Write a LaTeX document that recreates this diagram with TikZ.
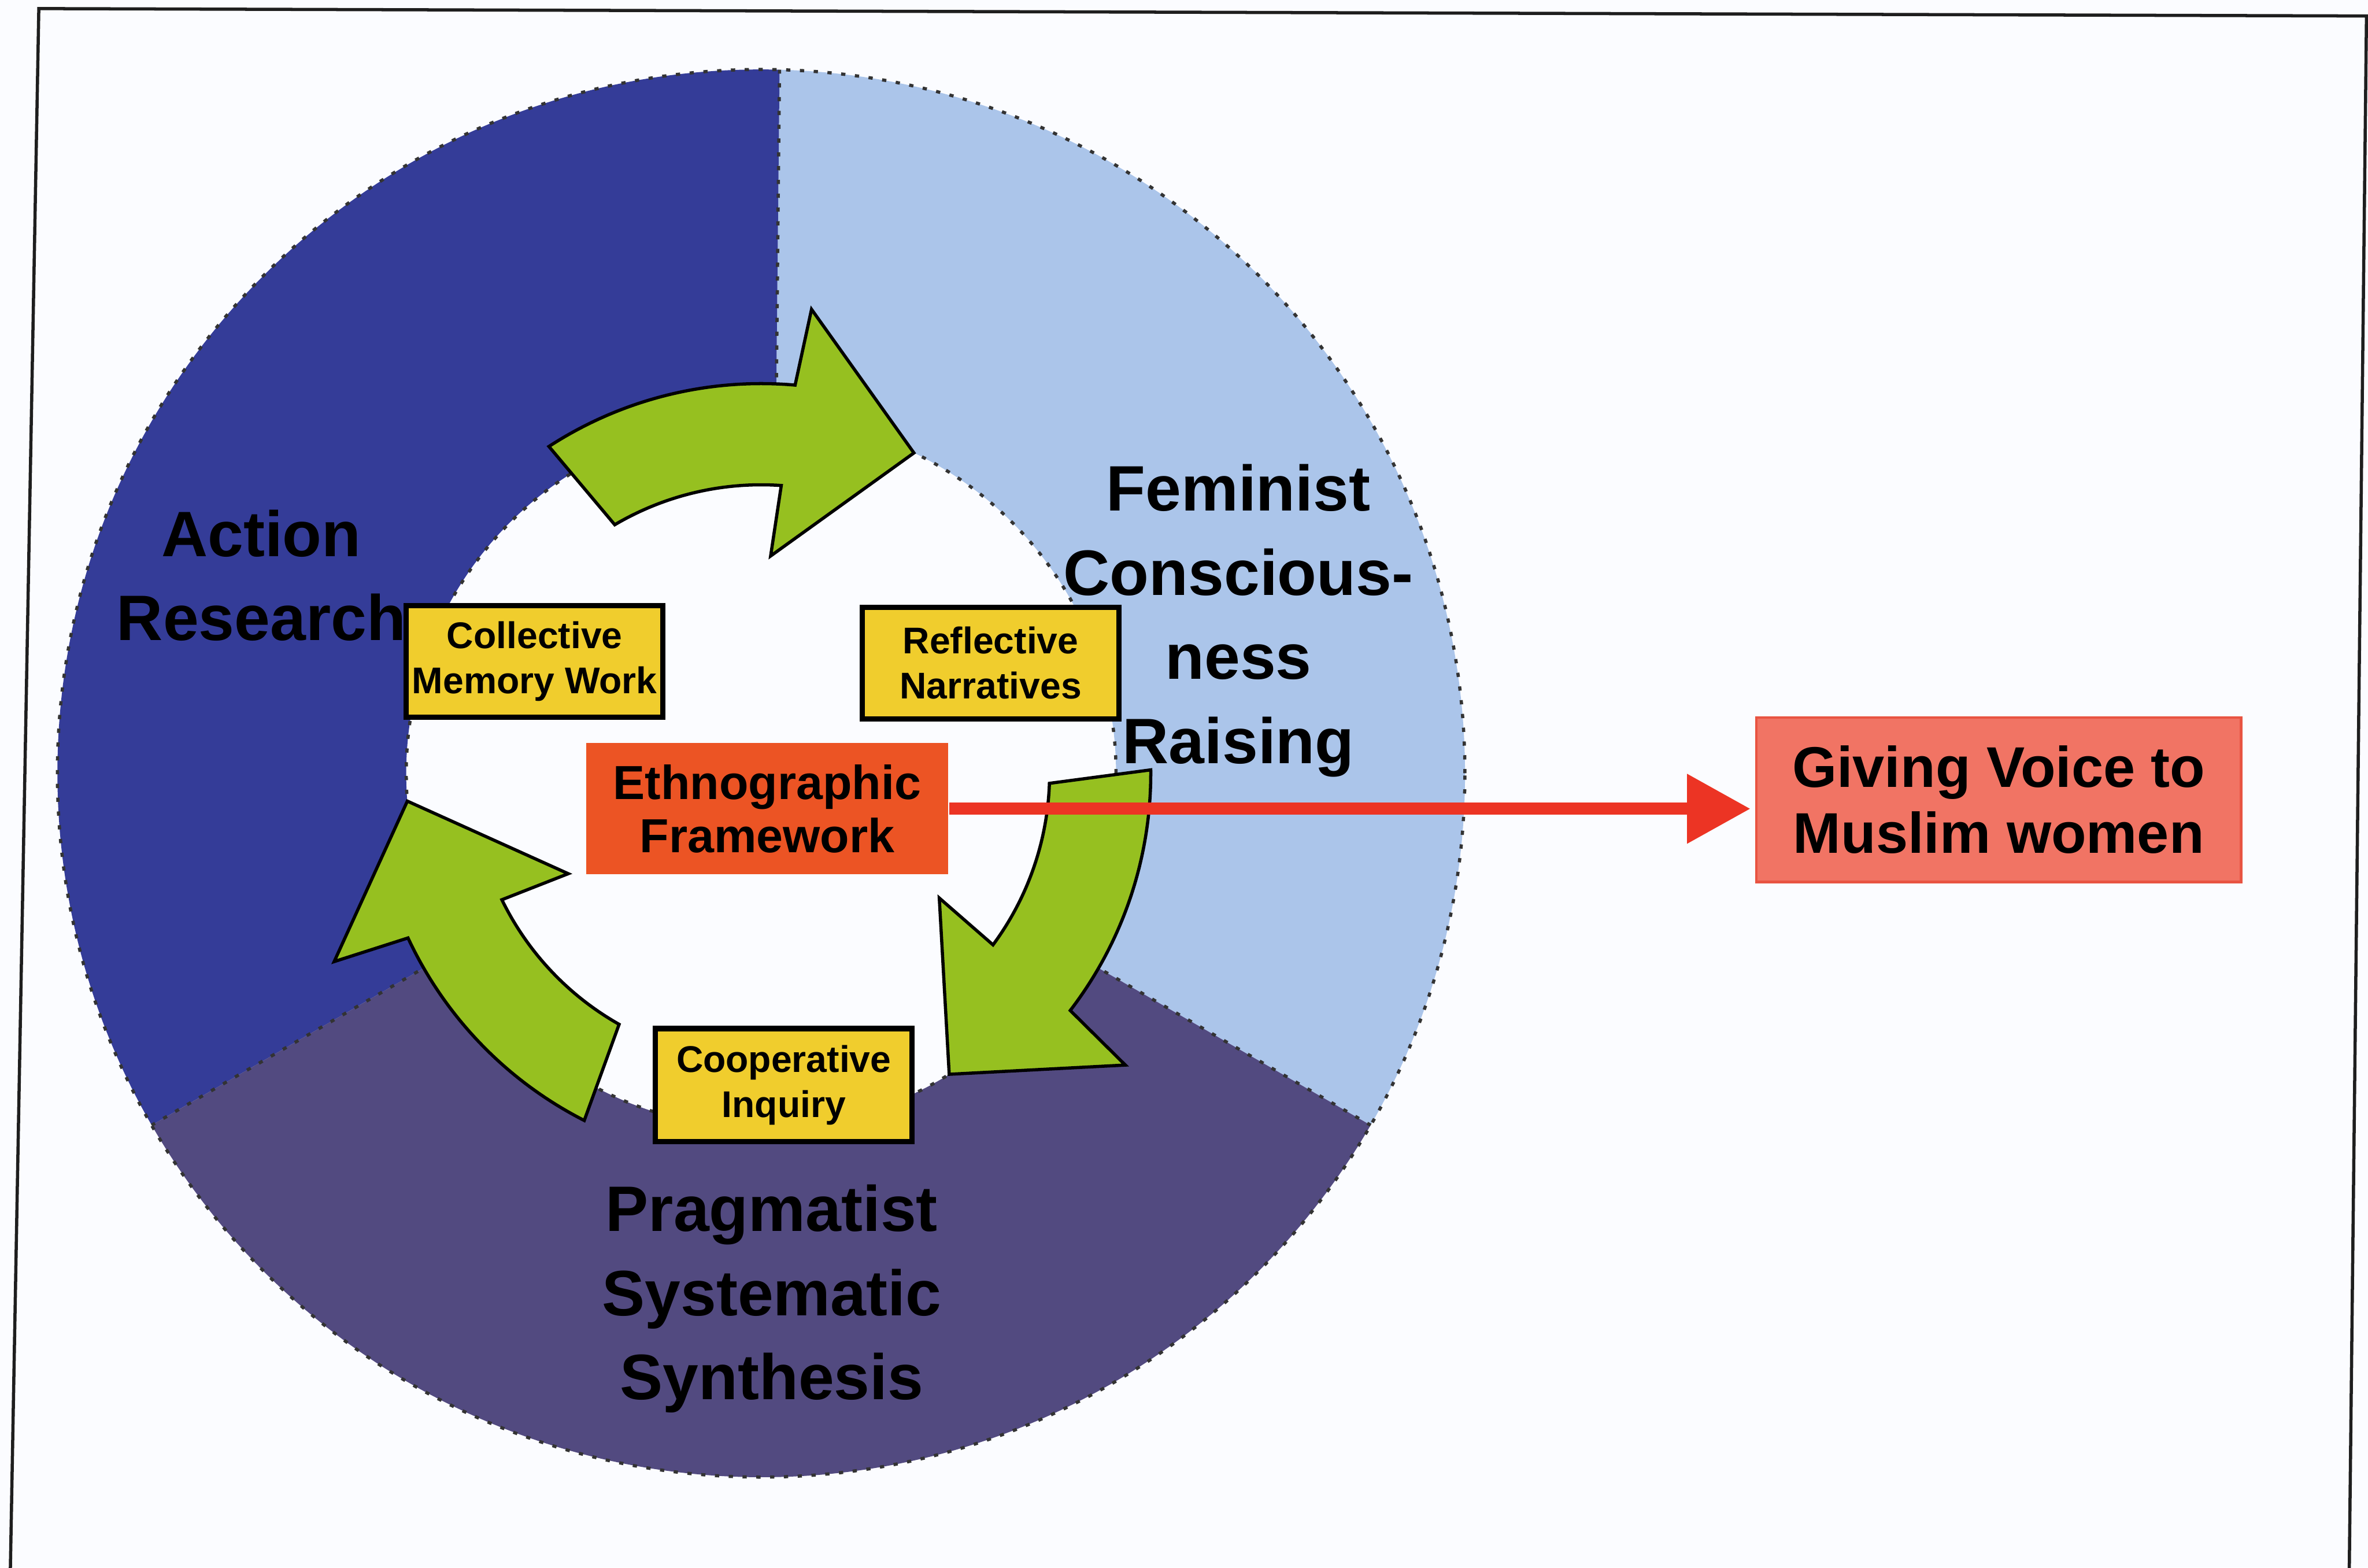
\documentclass[tikz,border=0pt]{standalone}
\usepackage{fontspec}
\setmainfont{Liberation Sans}
\usetikzlibrary{arrows.meta,calc}
\definecolor{bgc}{RGB}{251,252,255}
\definecolor{segA}{RGB}{52,60,152}
\definecolor{segF}{RGB}{171,197,234}
\definecolor{segP}{RGB}{82,74,128}
\definecolor{arrG}{RGB}{150,192,32}
\definecolor{boxY}{RGB}{240,205,45}
\definecolor{boxE}{RGB}{236,84,36}
\definecolor{redL}{RGB}{236,52,36}
\definecolor{boxG}{RGB}{241,116,100}
\definecolor{boxGd}{RGB}{232,84,66}
\definecolor{frameC}{RGB}{30,30,30}
\begin{document}
\begin{tikzpicture}[x=0.1mm,y=0.1mm,
  frame/.style={draw=frameC, line width=0.6pt},
  seg/.style={draw=black!80, line width=0.6pt, dash pattern=on 0.8pt off 1.8pt},
  garrow/.style={fill=arrG, draw=black, line width=0.6pt, line join=miter},
  seglabel/.style={font=\bfseries\fontsize{12.1}{15.85}\selectfont, align=center, inner sep=0pt},
  ybox/.style={fill=boxY, draw=black, line width=1pt, inner sep=0pt, minimum width=17mm, minimum height=7.4mm, align=center, font=\bfseries\fontsize{7}{8.5}\selectfont},
  ebox/.style={fill=boxE, inner sep=0pt, minimum width=24mm, minimum height=8.7mm, align=center, font=\bfseries\fontsize{9}{10}\selectfont},
  gbox/.style={fill=boxG, draw=boxGd, line width=0.5pt, inner sep=0pt, minimum width=32.1mm, minimum height=10.9mm, align=center, font=\bfseries\fontsize{10.8}{12.5}\selectfont},
  redarrow/.style={draw=redL, line width=2.3pt, -{Triangle[length=4.2mm,width=4.4mm]}, shorten >=0.3mm}
]
\fill[bgc] (0,0) rectangle (1568,1038);
\useasboundingbox (0,0) rectangle (1568,1038);

% scanned page frame
\coordinate (f1) at (6.7,-10);
\coordinate (f2) at (25.7,1032.3);
\coordinate (f3) at (1567,1027.4);
\coordinate (f4) at (1555.5,-10);
\draw[frame] (f1) -- (f2) -- (f3) -- (f4);

% ring
\begin{scope}[shift={(504,526)}]
  \fill[segF] (-30:466) arc[start angle=-30,end angle=88.5,radius=466] -- (87.6:235) arc[start angle=87.6,end angle=-30,radius=235] -- cycle;
  \fill[segA] (88.5:466) arc[start angle=88.5,end angle=210,radius=466] -- (210:235) arc[start angle=210,end angle=87.6,radius=235] -- cycle;
  \fill[segP] (210:466) arc[start angle=210,end angle=330,radius=466] -- (330:235) arc[start angle=330,end angle=210,radius=235] -- cycle;
  \draw[seg] (0,0) circle[radius=466];
  \draw[seg] (0,0) circle[radius=235];
  \draw[seg] (87.6:235) -- (88.5:466);
  \draw[seg] (210:235) -- (210:466);
  \draw[seg] (330:235) -- (330:466);
  % green curved arrows
  \foreach \rot in {0,-122.5,-240}{
    \draw[garrow] ({123+\rot}:258) arc[start angle={123+\rot}, end angle={85+\rot}, radius=258]
      -- ({83.8+\rot}:309) -- ({64.5+\rot}:235) -- ({87.5+\rot}:144) -- ({86+\rot}:191)
      arc[start angle={86+\rot}, end angle={120.5+\rot}, radius=191] -- cycle;
  }
\end{scope}

% segment labels
\node[seglabel] (act) at (173,657) {Action\\Research};
\node[seglabel] (fem) at (820,627) {Feminist\\Conscious-\\ness\\Raising};
\node[seglabel] (prag) at (511,178) {Pragmatist\\Systematic\\Synthesis};

% boxes
\node[ybox] (cmw) at (354,600) {Collective\\Memory Work};
\node[ybox] (rn) at (656,599) {Reflective\\Narratives};
\node[ybox, minimum height=7.5mm] (ci) at (519,319.5) {Cooperative\\Inquiry};
\node[ebox] (eth) at (508,502.5) {Ethnographic\\Framework};
\node[gbox] (giv) at (1323.5,508.5) {Giving Voice to\\Muslim women};

\draw[redarrow] (eth.east) -- (eth.east -| giv.west);
\end{tikzpicture}
\end{document}
